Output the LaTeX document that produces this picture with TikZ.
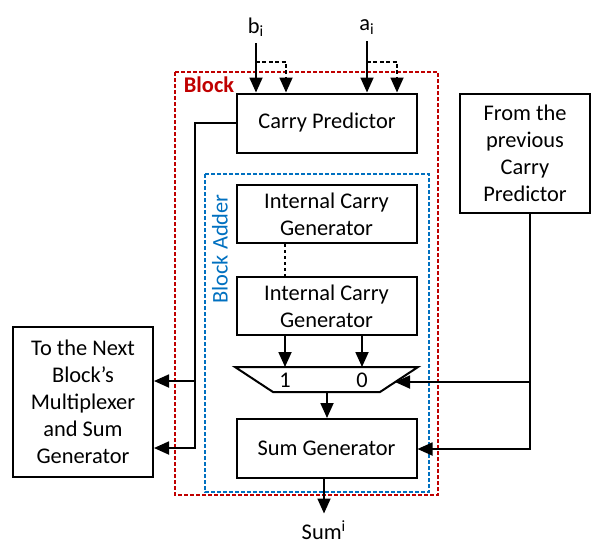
\documentclass[tikz,border=0pt]{standalone}
\usepackage{fontspec}
\setmainfont{Carlito}
\definecolor{blkRed}{HTML}{C00000}
\definecolor{addBlue}{HTML}{0070C0}
\usetikzlibrary{calc,arrows.meta}

\begin{document}
\begin{tikzpicture}[x=0.5pt, y=-0.5pt,
  font=\fontsize{11.2}{13.5}\selectfont,
  unit/.style={draw, line width=1pt, fill=white, align=center, inner sep=2pt},
  arr/.style={-{Triangle[length=7.5pt,width=6.5pt]}, line width=0.9pt},
  darr/.style={arr, dash pattern=on 2pt off 1.2pt},
  frame/.style={line width=1pt, dash pattern=on 2pt off 1pt}
]
  \useasboundingbox (0,0) rectangle (592,542);
  % Frames
  \draw[frame, blkRed] (175,72) rectangle (438,495);
  \draw[frame, addBlue] (205,174) rectangle (429,492);
  \node[text=blkRed, font=\fontsize{11.2}{13.5}\selectfont\bfseries] (blklbl) at (209,85) {Block};
  \node[text=addBlue, rotate=90] (addlbl) at (220,249) {Block Adder};
  % Inputs
  \node (bi) at (256,27) {b\textsubscript{i}};
  \node (ai) at (367,27) {a\textsubscript{i}};
  % Units
  \node[unit, minimum width=90pt, minimum height=29.5pt] (cp) at (327,123) {Carry Predictor};
  \node[unit, minimum width=90pt, minimum height=29pt] (icg1) at (326.5,214) {Internal Carry\\Generator};
  \node[unit, minimum width=90pt, minimum height=29pt] (icg2) at (326.5,306) {Internal Carry\\Generator};
  \node[unit, minimum width=90pt, minimum height=29.5pt] (sg) at (326.5,448.5) {Sum Generator};
  \node[unit, minimum width=70pt, minimum height=75pt] (nxt) at (83,402) {To the Next\\Block's\\Multiplexer\\and Sum\\Generator};
  \node[unit, minimum width=65pt, minimum height=59.5pt] (prev) at (525,153.5) {From the\\previous\\Carry\\Predictor};
  \node (sum) at (324,530) {Sum\textsuperscript{i}};
  % Multiplexer
  \coordinate (mux-tl) at (235,367);
  \coordinate (mux-tr) at (418,367);
  \coordinate (mux-br) at (380,392);
  \coordinate (mux-bl) at (273,392);
  \draw[line width=1pt] (mux-tl) -- (mux-tr) -- (mux-br) -- (mux-bl) -- cycle;
  \node (mux1) at (285,380) {1};
  \node (mux0) at (362,380) {0};
  \coordinate (mux-out) at (327,392);
  \coordinate (mux-in) at (395,382);
  % Input arrows
  \coordinate (bsplit) at (256,62);
  \coordinate (asplit) at (367,62);
  \draw[arr] (bi.south) -- (bi.south |- cp.north);
  \draw[darr] (bsplit) -| ([xshift=15pt]bsplit |- cp.north);
  \draw[arr] (ai.south) -- (ai.south |- cp.north);
  \draw[darr] (asplit) -| ([xshift=15pt]asplit |- cp.north);
  % Block adder chain
  \draw[line width=0.8pt, dash pattern=on 1.5pt off 1.5pt] (icg1.south -| mux1) -- (icg2.north -| mux1);
  \draw[arr] (icg2.south -| mux1) -- (mux1 |- mux-tl);
  \draw[arr] (icg2.south -| mux0) -- (mux0 |- mux-tl);
  \draw[arr] (mux-out) -- (mux-out |- sg.north);
  \draw[arr] (sg.south -| sum) -- (sum.north);
  % Carry out to next block
  \coordinate (cbus) at (195,381);
  \coordinate (cbus2) at (195,448);
  \draw[arr] (cp.west) -| (cbus2) -- (cbus2 -| nxt.east);
  \draw[arr] (cbus) -- (cbus -| nxt.east);
  % Carry in from previous predictor
  \coordinate (pbus) at (530,382);
  \coordinate (pbus2) at (530,449);
  \draw[arr] (pbus |- prev.south) -- (pbus2) -- (pbus2 -| sg.east);
  \draw[arr] (pbus) -- (mux-in);
\end{tikzpicture}
\end{document}
